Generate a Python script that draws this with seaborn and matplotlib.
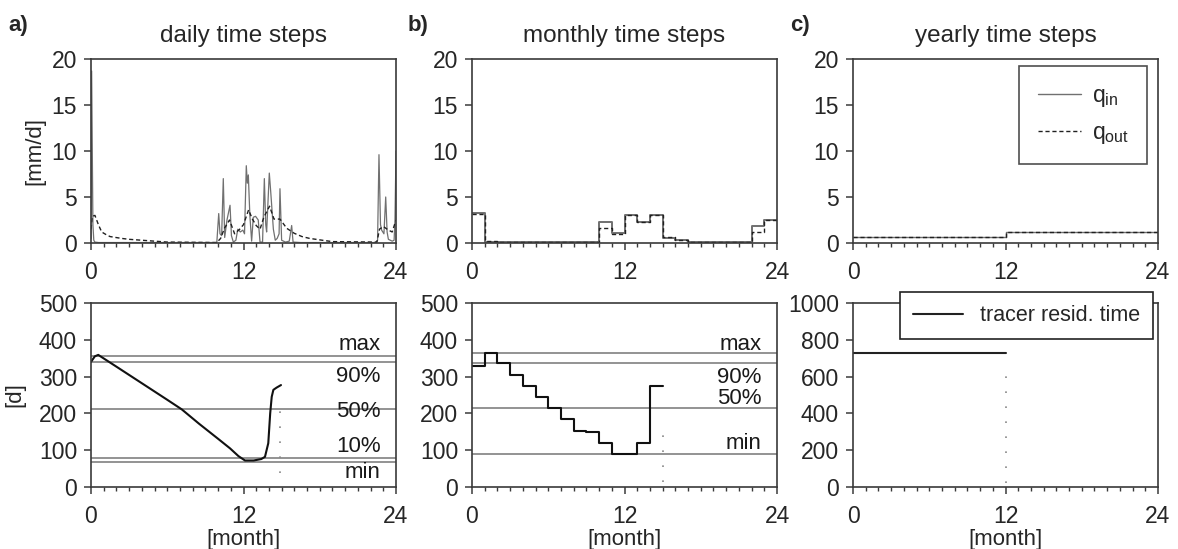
import numpy as np
import pandas as pd
import matplotlib
matplotlib.use("Agg")
import matplotlib.pyplot as plt
import seaborn as sns
from matplotlib.ticker import MultipleLocator

# daily fluxes at peaks and troughs (month, mm/d)
day_t_in = [0.0, 0.05, 0.15, 0.22, 0.3, 0.6, 9.9, 10.05, 10.15, 10.28, 10.41, 10.52, 10.7, 10.94,
            11.05, 11.2, 11.4, 11.55, 11.75, 11.95, 12.08, 12.22, 12.3, 12.38, 12.5, 12.64,
            12.77, 12.95, 13.16, 13.3, 13.5, 13.64, 13.75, 13.82, 14.03, 14.14, 14.35, 14.5,
            14.65, 14.8, 14.87, 15.0, 15.3, 15.6, 15.79, 15.9, 16.5, 22.4, 22.55, 22.66,
            22.78, 22.87, 23.05, 23.19, 23.3, 23.4, 23.7, 23.85, 23.92, 24.0]
day_q_in = [0.5, 18.7, 2.0, 0.3, 0.1, 0.05, 0.05, 3.2, 1.0, 0.8, 7.0, 0.6, 2.5, 4.1,
            0.8, 0.1, 0.3, 1.5, 1.2, 1.4, 1.0, 8.4, 6.5, 7.4, 3.0, 0.2,
            2.8, 2.9, 2.5, 0.1, 0.1, 7.0, 2.0, 1.2, 7.6, 5.6, 1.5, 0.3,
            0.5, 1.0, 5.9, 0.3, 0.1, 0.2, 1.9, 0.1, 0.05, 0.05, 0.3, 9.6,
            2.0, 1.4, 1.0, 5.0, 1.2, 0.4, 0.2, 0.3, 2.5, 10.0]
day_t_out = [0.0, 0.1, 0.31, 0.58, 0.84, 1.2, 1.5, 2.4, 3.0, 4.0, 5.0, 6.0, 9.9, 10.2, 10.5,
             10.9, 11.3, 11.7, 12.0, 12.4, 12.7, 13.0, 13.3, 13.6, 14.05, 14.4, 14.87, 15.4,
             16.0, 16.6, 17.2, 18.2, 19.0, 22.5, 22.7, 23.0, 23.4, 23.7, 24.0]
day_q_out = [1.5, 2.9, 3.0, 2.0, 1.2, 0.9, 0.7, 0.5, 0.4, 0.3, 0.2, 0.1, 0.05, 0.5, 1.6,
             2.5, 1.0, 1.5, 2.0, 3.6, 2.6, 1.9, 1.5, 2.8, 4.0, 2.6, 2.6, 1.6,
             1.05, 0.7, 0.5, 0.3, 0.15, 0.1, 1.5, 1.8, 1.4, 1.2, 2.5]

# monthly fluxes (mm/d), one value per month
month_q_in = [3.3, 0.15, 0.1, 0.1, 0.1, 0.1, 0.1, 0.1, 0.1, 0.1, 2.3, 1.05,
              3.0, 2.3, 3.0, 0.5, 0.3, 0.1, 0.1, 0.1, 0.1, 0.1, 1.8, 2.55]
month_q_out = [3.2, 0.2, 0.15, 0.1, 0.1, 0.1, 0.1, 0.1, 0.1, 0.1, 1.6, 1.0,
               3.0, 2.3, 3.0, 0.6, 0.3, 0.15, 0.1, 0.1, 0.1, 0.1, 1.15, 2.5]

# yearly fluxes (mm/d)
year_q_in = [0.6, 1.2]
year_q_out = [0.6, 1.2]

# tracer residence time [d]
res_day_t = [0.0, 0.3, 0.57, 2.0, 4.0, 6.0, 7.14, 8.5, 10.0, 10.94, 11.6, 12.12, 12.8,
             13.4, 13.69, 13.95, 14.1, 14.22, 14.35, 14.6, 14.95]
res_day = [340, 355, 359, 327, 282, 237, 211, 172, 131, 105, 84, 72, 72,
           76, 82, 119, 200, 245, 264, 270, 277]
res_month = [330, 363, 336, 304, 274, 244, 214, 184, 153, 150, 120, 90, 90, 120, 274]
res_year = [727]

# statistics lines
stat_names_a = ["max", "90%", "50%", "10%", "min"]
stat_vals_a = [357, 340, 212, 78, 69]
stat_names_b = ["max", "90%", "50%", "min"]
stat_vals_b = [363, 336, 214, 90]

# dotted markers (month, from, to)
dots_a = (14.9, 38, 236)
dots_b = (15.0, 14, 177)
dots_c = (12.0, 20, 654)

sns.set_style("ticks")
plt.rcParams["font.family"] = ["Liberation Sans", "DejaVu Sans"]
plt.rcParams["mathtext.default"] = "regular"

fig = plt.figure(figsize=(11.78, 5.49), dpi=100)
lefts = [91 / 1178, 472 / 1178, 853 / 1178]
w, h = 305 / 1178, 184 / 549
top_axes = [fig.add_axes([l, 1 - 243 / 549, w, h]) for l in lefts]
bot_axes = [fig.add_axes([l, 1 - 487 / 549, w, h]) for l in lefts]

spine_c = "#3a3a3a"
in_c = "#707070"
out_c = "#202020"
fs = 16.5


def style(ax, ymax, ystep):
    ax.set_xlim(0, 24)
    ax.set_ylim(0, ymax)
    ax.set_xticks([0, 12, 24])
    ax.xaxis.set_minor_locator(MultipleLocator(1))
    ax.yaxis.set_major_locator(MultipleLocator(ystep))
    ax.tick_params(axis="both", which="major", direction="out", length=5, width=1.1,
                   color=spine_c, labelsize=fs, pad=5)
    ax.tick_params(axis="x", which="minor", direction="out", length=3, width=1.0, color=spine_c)
    ax.tick_params(axis="y", which="minor", left=False)
    ax.tick_params(axis="x", which="major", pad=8)
    for s in ax.spines.values():
        s.set_visible(True)
        s.set_color(spine_c)
        s.set_linewidth(1.2)
    ax.set_xlabel("")
    ax.set_ylabel("")


def steps(ax, vals, width, **kw):
    edges = np.arange(len(vals) + 1) * width
    sns.lineplot(x=edges, y=list(vals) + [vals[-1]], drawstyle="steps-post", ax=ax, **kw)


# --- top row: fluxes
ax = top_axes[0]
sns.lineplot(x=day_t_in, y=day_q_in, color=in_c, lw=0.9, ax=ax)
sns.lineplot(x=day_t_out, y=day_q_out, color=out_c, lw=1.0, linestyle=(0, (3, 2)), ax=ax)

ax = top_axes[1]
steps(ax, month_q_in, 1, color=in_c, lw=1.4)
steps(ax, month_q_out, 1, color=out_c, lw=1.0, linestyle=(0, (3, 2)))

ax = top_axes[2]
steps(ax, year_q_in, 12, color=in_c, lw=1.0, label="q$_{in}$")
steps(ax, year_q_out, 12, color=out_c, lw=1.0, linestyle=(0, (3, 2)), label="q$_{out}$")
leg = ax.legend(loc="upper right", bbox_to_anchor=(0.964, 0.962), borderaxespad=0,
                fontsize=16.5, frameon=True, fancybox=False, handlelength=1.9,
                labelspacing=0.5, borderpad=0.8, handletextpad=0.45)
leg.get_frame().set_edgecolor("#222222")
leg.get_frame().set_linewidth(1.2)

for ax in top_axes:
    style(ax, 20, 5)

# --- bottom row: residence time
ax = bot_axes[0]
for v in stat_vals_a:
    ax.axhline(v, color="#8a8a8a", lw=1.3, zorder=1)
sns.lineplot(x=res_day_t, y=res_day, color="#111111", lw=1.5, ax=ax)
ax.vlines(dots_a[0], dots_a[1], dots_a[2], color="#888888", lw=1.2, linestyle=(0, (1, 8)))
offs_a = [31, -39, -7, 32, -30]
for name, v, o in zip(stat_names_a, stat_vals_a, offs_a):
    ax.text(22.8, v + o, name, ha="right", va="center", fontsize=16, color="#1a1a1a")

ax = bot_axes[1]
for v in stat_vals_b:
    ax.axhline(v, color="#8a8a8a", lw=1.3, zorder=1)
steps(ax, res_month, 1, color="#111111", lw=1.5)
ax.vlines(dots_b[0], dots_b[1], dots_b[2], color="#888888", lw=1.2, linestyle=(0, (1, 8)))
offs_b = [25, -39, 27, 27]
for name, v, o in zip(stat_names_b, stat_vals_b, offs_b):
    ax.text(22.8, v + o, name, ha="right", va="center", fontsize=16, color="#1a1a1a")

ax = bot_axes[2]
steps(ax, res_year, 12, color="#222222", lw=1.5, label="tracer resid. time")
ax.vlines(dots_c[0], dots_c[1], dots_c[2], color="#888888", lw=1.2, linestyle=(0, (1, 8)))
leg = ax.legend(loc="upper right", bbox_to_anchor=(0.983, 1.058), borderaxespad=0,
                fontsize=15.5, frameon=True, fancybox=False, handlelength=2.3,
                borderpad=0.6, handletextpad=0.8)
leg.get_frame().set_edgecolor("#222222")
leg.get_frame().set_linewidth(1.2)
leg.get_frame().set_alpha(1)
leg.set_zorder(5)

style(bot_axes[0], 500, 100)
style(bot_axes[1], 500, 100)
style(bot_axes[2], 1000, 200)

for ax in bot_axes:
    ax.set_xlabel("[month]", fontsize=16, labelpad=1)

top_axes[0].set_ylabel("[mm/d]", fontsize=16)
top_axes[0].yaxis.set_label_coords(-0.15, 0.5)
bot_axes[0].set_ylabel("[d]", fontsize=16)
bot_axes[0].yaxis.set_label_coords(-0.215, 0.5)

titles = ["daily time steps", "monthly time steps", "yearly time steps"]
letters = ["a)", "b)", "c)"]
letter_x = [8, 408, 790]
for ax, t, lt, lx in zip(top_axes, titles, letters, letter_x):
    ax.set_title(t, fontsize=17.5, pad=12)
    fig.text(lx / 1178, 1 - 25 / 549, lt, fontsize=16, fontweight="bold",
             va="center", ha="left")

fig.savefig("out.png", dpi=100)
